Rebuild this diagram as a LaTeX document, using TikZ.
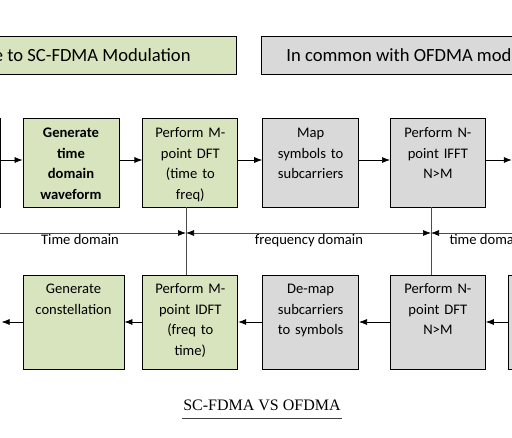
\documentclass[tikz,border=0pt]{standalone}
\usepackage{fontspec}
\setmainfont{Carlito}
\newfontfamily\capfont{Liberation Serif}
\usepackage{xcolor}
\usepackage{tikz}
\usetikzlibrary{shapes,arrows.meta,positioning}
\definecolor{scgreen}{HTML}{D7E4BD}
\definecolor{ofgray}{HTML}{D9D9D9}
\tikzstyle{stage} = [rectangle, draw, line width=0.8pt, minimum width=96pt,
    minimum height=89pt, inner sep=0pt]
\tikzstyle{stagelow} = [stage, minimum height=94pt]
\tikzstyle{stagetext} = [text width=92pt, align=center, inner sep=0pt,
    anchor=base, font=\fontsize{14.6}{20.5}\selectfont]
\tikzstyle{header} = [rectangle, draw, line width=0.8pt, minimum height=38pt,
    inner ysep=0pt, font=\fontsize{18.6}{22}\selectfont]
\tikzstyle{line} = [draw, line width=0.7pt, -{Latex[length=8pt,width=6pt]}]
\tikzstyle{domline} = [draw, black!70, line width=0.7pt]
\tikzstyle{domtext} = [font=\fontsize{14.6}{17}\selectfont, anchor=base]

\begin{document}
\begin{tikzpicture}[x=1pt, y=-1pt]
    \useasboundingbox (0,0) rectangle (512,437);
    \clip (0,0) rectangle (512,437);
    % Headers
    \node [header, fill=scgreen, anchor=east, inner xsep=46pt] (schead) at (237,55)
        {e to SC-FDMA Modulation};
    \node [header, fill=ofgray, anchor=west, inner xsep=25pt] (ofhead) at (261,55)
        {In common with OFDMA mod};
    % Transmit row
    \node [stage, fill=scgreen] (wave) at (71,162.5) {};
    \node [stage, fill=scgreen, left=22pt of wave] (txleft) {};
    \node [stage, fill=scgreen, minimum width=95pt, right=23pt of wave] (dft) {};
    \node [stage, fill=ofgray, right=24pt of dft] (map) {};
    \node [stage, fill=ofgray, minimum width=95pt, right=31pt of map] (ifft) {};
    \node [stage, fill=ofgray, right=26pt of ifft] (txright) {};
    % Receive row
    \node [stagelow, fill=scgreen, minimum width=101pt] (const) at (73.5,322) {};
    \node [stagelow, fill=scgreen, left=23pt of const] (rxleft) {};
    \node [stagelow, fill=scgreen, minimum width=95pt, right=18pt of const] (idft) {};
    \node [stagelow, fill=ofgray, right=24pt of idft] (demap) {};
    \node [stagelow, fill=ofgray, minimum width=95pt, right=31pt of demap] (ndft) {};
    \node [stagelow, fill=ofgray, right=22pt of ndft] (rxright) {};
    % Box texts
    \node [stagetext, font=\fontsize{14.6}{20.5}\selectfont\bfseries]
        at ([yshift=-20pt]wave.north) {Generate\\time\\domain\\waveform};
    \node [stagetext] at ([yshift=-20pt]dft.north) {Perform M-\\point DFT\\(time to\\freq)};
    \node [stagetext] at ([yshift=-20pt]map.north) {Map\\symbols to\\subcarriers};
    \node [stagetext] at ([yshift=-20pt]ifft.north) {Perform N-\\point IFFT\\N>M};
    \node [stagetext] at ([yshift=-19pt]const.north) {Generate\\constellation};
    \node [stagetext] at ([yshift=-19pt]idft.north) {Perform M-\\point IDFT\\(freq to\\time)};
    \node [stagetext] at ([yshift=-19pt]demap.north) {De-map\\subcarriers\\to symbols};
    \node [stagetext] at ([yshift=-19pt]ndft.north) {Perform N-\\point DFT\\N>M};
    % Draw edges
    \path [line] ([yshift=2.5pt]txleft.east) -- ([yshift=2.5pt]wave.west);
    \path [line] ([yshift=2.5pt]wave.east) -- ([yshift=2.5pt]dft.west);
    \path [line] ([yshift=2.5pt]dft.east) -- ([yshift=2.5pt]map.west);
    \path [line] ([yshift=2.5pt]map.east) -- ([yshift=2.5pt]ifft.west);
    \path [line] ([yshift=2.5pt]ifft.east) -- ([yshift=2.5pt]txright.west);
    \path [line] (rxright) -- (ndft);
    \path [line] (ndft) -- (demap);
    \path [line] (demap) -- (idft);
    \path [line] (idft) -- (const);
    \path [line] (const) -- ([xshift=2pt]rxleft.east);
    % Domain boundaries
    \coordinate (mb) at (186,233);
    \coordinate (nb) at (431,233);
    \coordinate (edgeL) at (-5,233);
    \coordinate (edgeR) at (520,233);
    \path [domline] (dft.south -| mb) -- (idft.north -| mb);
    \path [domline] (ifft.south -| nb) -- (idft.north -| nb);
    \path [domline, -{Latex[length=8pt,width=6pt,black]}] (edgeL) -- (mb);
    \path [domline, {Latex[length=8pt,width=6pt,black]}-{Latex[length=8pt,width=6pt,black]}]
        (mb) -- (nb);
    \path [domline, -{Latex[length=8pt,width=6pt,black]}] (edgeR) -- (nb);
    \node [domtext] (tdl) at (80,244.5) {Time domain};
    \node [domtext] (fd) at (309,244.5) {frequency domain};
    \node [domtext, anchor=base west] (tdr) at (446,244.5) {time domain};
    % Caption
    \node [font=\capfont\fontsize{16}{19}\selectfont, anchor=base, inner xsep=1pt,
        inner ysep=7pt] (caption) at (262,410.5) {SC-FDMA VS OFDMA};
    \draw [black!75, line width=0.8pt] (caption.south west) -- (caption.south east);
\end{tikzpicture}
\end{document}
